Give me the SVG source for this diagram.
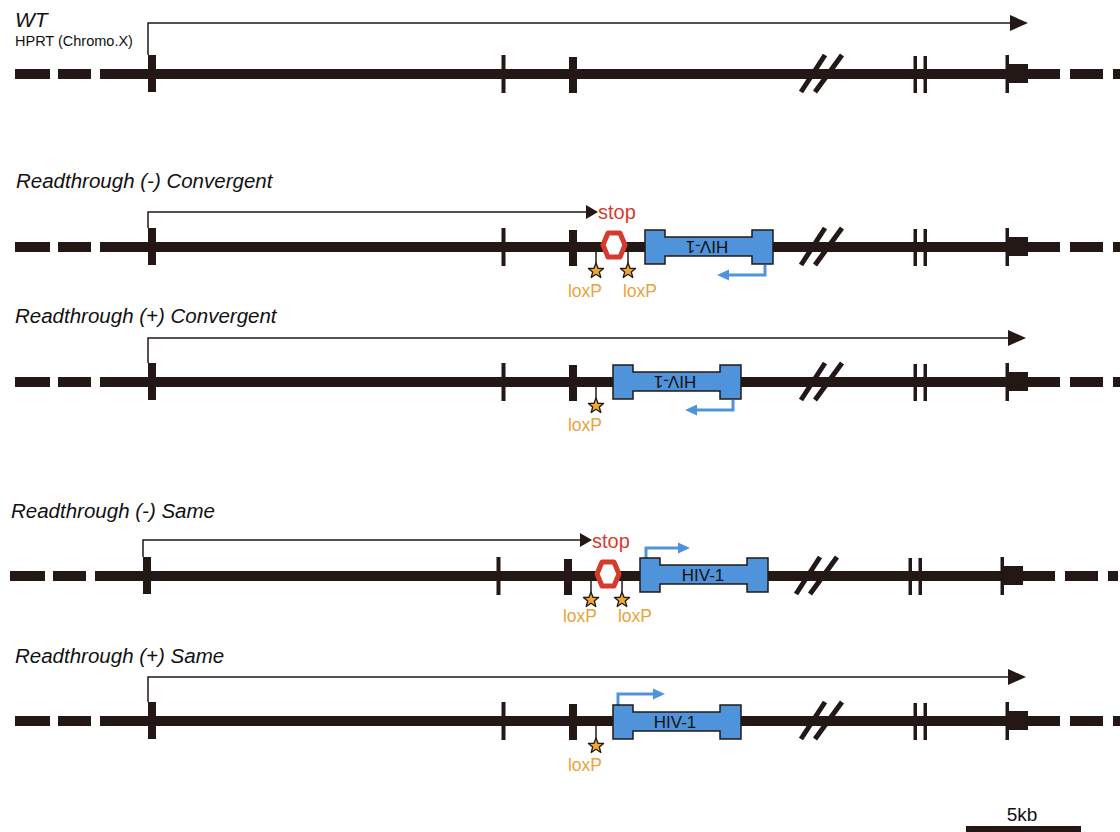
<svg xmlns="http://www.w3.org/2000/svg" xmlns:xlink="http://www.w3.org/1999/xlink" width="1120" height="832" viewBox="0 0 1120 832">
<style>
.lbl{font-family:"Liberation Sans",Arial,sans-serif;font-style:italic;font-size:20.5px;fill:#111}
.sub{font-family:"Liberation Sans",Arial,sans-serif;font-size:14.5px;fill:#111}
.dk{fill:#231815}
.tx{fill:none;stroke:#231815;stroke-width:1.5}
.stop{font-family:"Liberation Sans",Arial,sans-serif;font-size:20px;fill:#d63a2f}
.lox{font-family:"Liberation Sans",Arial,sans-serif;font-size:17.5px;fill:#e8a33c;text-anchor:middle}
.hex{fill:#fff;stroke:#d63a2f;stroke-width:5;stroke-linejoin:round}
.box{fill:#4f93db;stroke:#231815;stroke-width:1.5}
.hiv{font-family:"Liberation Sans",Arial,sans-serif;font-size:17px;fill:#111;text-anchor:middle}
.barr{fill:none;stroke:#4f93db;stroke-width:3}
.bhead{fill:#4f93db}
.loxl{stroke:#231815;stroke-width:1.5}
.star{fill:#f0a830;stroke:#231815;stroke-width:1.3;stroke-linejoin:round}
</style>
<defs>
<g id="backbone">
<rect class="dk" x="15" y="-5" width="35" height="10"/>
<rect class="dk" x="58" y="-5" width="33" height="10"/>
<rect class="dk" x="100" y="-5" width="960" height="10"/>
<rect class="dk" x="1070" y="-5" width="33" height="10"/>
<rect class="dk" x="1113" y="-5" width="10" height="10"/>
<rect class="dk" x="148" y="-19" width="8" height="37"/>
<rect class="dk" x="501.5" y="-19" width="4" height="38"/>
<rect class="dk" x="569" y="-17" width="8" height="36"/>
<line x1="801" y1="18" x2="825" y2="-19" stroke="#231815" stroke-width="5"/>
<line x1="815" y1="18" x2="842" y2="-19" stroke="#231815" stroke-width="5"/>
<rect class="dk" x="913.5" y="-18" width="3.5" height="37"/>
<rect class="dk" x="923.5" y="-18" width="3.5" height="37"/>
<rect class="dk" x="1005.5" y="-19" width="3.5" height="38"/>
<rect class="dk" x="1009" y="-10" width="19" height="19"/>
</g>
<polygon id="hivbox" class="box" points="0,-17 20,-17 20,-10 107,-10 107,-17 128,-17 128,17 107,17 107,9 20,9 20,17 0,17"/>
<polygon id="star" class="star" points="0,-8 2.1,-2.6 7.6,-2.5 3.3,1 4.8,6.5 0,3.3 -4.8,6.5 -3.3,1 -7.6,-2.5 -2.1,-2.6"/>
<polygon id="hexa" class="hex" points="-11,0 -6,-12 6,-12 11,0 6,12 -6,12"/>
</defs>

<g id="connectors">
<path class="tx" d="M148,55 V23 H1012"/>
<polygon class="dk" points="1010,15 1028,23 1010,31"/>
<path class="tx" d="M148,228 V212 H588"/>
<polygon class="dk" points="586,205 598,212 586,219"/>
<path class="tx" d="M148,363 V338 H1010"/>
<polygon class="dk" points="1008,330 1026,338 1008,346"/>
<path class="tx" d="M143,557 V540 H582"/>
<polygon class="dk" points="580,533 592,540 580,547"/>
<path class="tx" d="M148,702 V677 H1010"/>
<polygon class="dk" points="1008,669 1026,677 1008,685"/>
<path class="barr" d="M765,265 V275 H728"/>
<polygon class="bhead" points="717,275 729,269.5 729,280.5"/>
<path class="barr" d="M733,400 V410 H696"/>
<polygon class="bhead" points="685,410 697,404.5 697,415.5"/>
<path class="barr" d="M646,558 V548 H678"/>
<polygon class="bhead" points="690,548 678,542.5 678,553.5"/>
<path class="barr" d="M618,705 V694 H653"/>
<polygon class="bhead" points="665,694 653,688.5 653,699.5"/>
</g>

<g id="wt">
<text class="lbl" x="15" y="27" style="font-size:21px">WT</text>
<text class="sub" x="15" y="46">HPRT (Chromo.X)</text>
<use xlink:href="#backbone" href="#backbone" transform="translate(0,74)"/>
</g>

<g id="rt-minus-conv">
<text class="lbl" x="16" y="188">Readthrough (-) Convergent</text>
<use xlink:href="#backbone" href="#backbone" transform="translate(0,247)"/>
<text class="stop" x="598" y="219">stop</text>
<use xlink:href="#hexa" href="#hexa" transform="translate(614,245)"/>
<line class="loxl" x1="596" y1="250" x2="596" y2="265"/>
<line class="loxl" x1="628" y1="250" x2="628" y2="265"/>
<use xlink:href="#star" href="#star" transform="translate(596,271)"/>
<use xlink:href="#star" href="#star" transform="translate(628,271)"/>
<text class="lox" x="585" y="297">loxP</text>
<text class="lox" x="640" y="297">loxP</text>
<use xlink:href="#hivbox" href="#hivbox" transform="translate(645,247)"/>
<text class="hiv" transform="translate(707,241) rotate(180)">HIV-1</text>
</g>

<g id="rt-plus-conv">
<text class="lbl" x="15" y="323">Readthrough (+) Convergent</text>
<use xlink:href="#backbone" href="#backbone" transform="translate(0,382)"/>
<line class="loxl" x1="596" y1="386" x2="596" y2="400"/>
<use xlink:href="#star" href="#star" transform="translate(596,406)"/>
<text class="lox" x="585" y="431">loxP</text>
<use xlink:href="#hivbox" href="#hivbox" transform="translate(613,382)"/>
<text class="hiv" transform="translate(675,376) rotate(180)">HIV-1</text>
</g>

<g id="rt-minus-same">
<text class="lbl" x="11" y="518">Readthrough (-) Same</text>
<use xlink:href="#backbone" href="#backbone" transform="translate(-5,576)"/>
<text class="stop" x="592" y="548">stop</text>
<use xlink:href="#hexa" href="#hexa" transform="translate(608,574)"/>
<line class="loxl" x1="591" y1="580" x2="591" y2="594"/>
<line class="loxl" x1="622" y1="580" x2="622" y2="594"/>
<use xlink:href="#star" href="#star" transform="translate(591,600)"/>
<use xlink:href="#star" href="#star" transform="translate(622,600)"/>
<text class="lox" x="580" y="622">loxP</text>
<text class="lox" x="635" y="622">loxP</text>
<use xlink:href="#hivbox" href="#hivbox" transform="translate(640,575)"/>
<text class="hiv" x="703" y="581">HIV-1</text>
</g>

<g id="rt-plus-same">
<text class="lbl" x="15" y="663">Readthrough (+) Same</text>
<use xlink:href="#backbone" href="#backbone" transform="translate(0,721)"/>
<line class="loxl" x1="596" y1="725" x2="596" y2="740"/>
<use xlink:href="#star" href="#star" transform="translate(596,746)"/>
<text class="lox" x="585" y="771">loxP</text>
<use xlink:href="#hivbox" href="#hivbox" transform="translate(613,722)"/>
<text class="hiv" x="675" y="728">HIV-1</text>
</g>

<g id="scale">
<text class="hiv" x="1022" y="821" style="font-size:19px">5kb</text>
<rect class="dk" x="966" y="826" width="115" height="6"/>
</g>
</svg>
